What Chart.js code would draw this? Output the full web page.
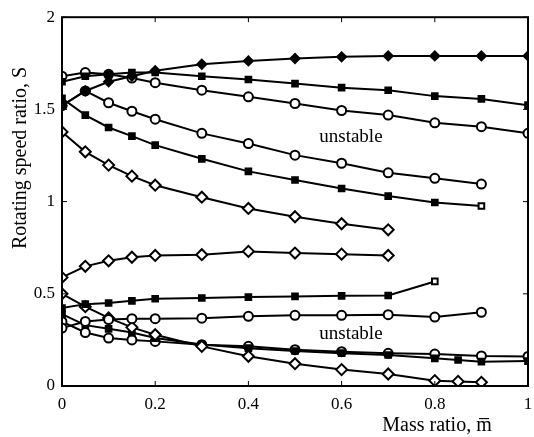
<!DOCTYPE html>
<html>
<head>
<meta charset="utf-8">
<script src="https://cdn.jsdelivr.net/npm/chart.js@4.4.1/dist/chart.umd.min.js"></script>
<style>
  body { margin: 0; background: #fff; }
  #wrap { width: 534px; height: 437px; }
</style>
</head>
<body>
<div id="wrap"><canvas id="chart_speed"></canvas></div>
<script>
// mass ratio positions
const m_full = [0, 0.05, 0.1, 0.15, 0.2, 0.3, 0.4, 0.5, 0.6, 0.7, 0.8, 0.9, 1.0];
const m_to09 = [0, 0.05, 0.1, 0.15, 0.2, 0.3, 0.4, 0.5, 0.6, 0.7, 0.8, 0.9];
const m_to08 = [0, 0.05, 0.1, 0.15, 0.2, 0.3, 0.4, 0.5, 0.6, 0.7, 0.8];
const m_to07 = [0, 0.05, 0.1, 0.15, 0.2, 0.3, 0.4, 0.5, 0.6, 0.7];
const m_fall = [0, 0.05, 0.1, 0.15, 0.2, 0.3, 0.4, 0.5, 0.6, 0.7, 0.8, 0.85, 0.9];
const m_fall1 = [0, 0.05, 0.1, 0.15, 0.2, 0.3, 0.4, 0.5, 0.6, 0.7, 0.8, 0.85, 0.9, 1.0];

// upper branches
const top_diamond = [1.52, 1.60, 1.65, 1.68, 1.71, 1.745, 1.763, 1.776, 1.785, 1.79, 1.79, 1.79, 1.79];
const top_square  = [1.65, 1.68, 1.69, 1.70, 1.70, 1.68, 1.662, 1.64, 1.618, 1.604, 1.572, 1.557, 1.523];
const top_circle  = [1.68, 1.70, 1.69, 1.67, 1.645, 1.604, 1.568, 1.532, 1.494, 1.469, 1.427, 1.406, 1.37];
const mid_circle  = [1.52, 1.60, 1.536, 1.49, 1.447, 1.37, 1.315, 1.252, 1.208, 1.156, 1.126, 1.095];
const mid_square  = [1.56, 1.469, 1.402, 1.355, 1.306, 1.232, 1.164, 1.117, 1.071, 1.03, 0.995, 0.976];
const mid_diamond = [1.378, 1.27, 1.198, 1.138, 1.089, 1.024, 0.963, 0.918, 0.88, 0.847];

// lower branches
const low_diamond = [0.589, 0.649, 0.679, 0.698, 0.708, 0.712, 0.73, 0.721, 0.715, 0.708];
const low_square  = [0.423, 0.444, 0.45, 0.462, 0.473, 0.477, 0.482, 0.486, 0.489, 0.491, 0.567];
const low_circle  = [0.314, 0.35, 0.36, 0.365, 0.365, 0.368, 0.378, 0.383, 0.383, 0.387, 0.374, 0.40];
const fall_diamond = [0.5, 0.43, 0.369, 0.318, 0.278, 0.215, 0.161, 0.121, 0.089, 0.065, 0.029, 0.025, 0.02];
const fall_square  = [0.39, 0.33, 0.31, 0.29, 0.26, 0.225, 0.205, 0.19, 0.178, 0.168, 0.15, 0.141, 0.132, 0.135];
const fall_circle  = [0.349, 0.29, 0.26, 0.25, 0.242, 0.224, 0.215, 0.197, 0.186, 0.177, 0.173, 0.163, 0.16];

const y_ticks = [0, 0.5, 1, 1.5, 2];
const x_ticks = [0, 0.2, 0.4, 0.6, 0.8, 1];

const FONT = "'Liberation Serif', 'Times New Roman', serif";

function pts(ms, ss) {
    return ss.map((s, i) => ({x: ms[i], y: s}));
}

function series(ms, ss, kind, hollowLast) {
    let style = {circle: "circle", square: "rect", diamond: "rectRot", smalldiamond: "rectRot"}[kind];
    let radius = {circle: 4.5, square: 4, diamond: 5.5, smalldiamond: 4.5}[kind];
    let fill = (kind == "square" || kind == "smalldiamond") ? "#000" : "#fff";
    let bg = ss.map((s, i) => (hollowLast && i == ss.length - 1) ? "#fff" : fill);
    return {
        data: pts(ms, ss),
        showLine: true,
        borderColor: "#000",
        borderWidth: 2,
        pointStyle: style,
        pointRadius: radius,
        pointBorderWidth: 2,
        pointBorderColor: "#000",
        pointBackgroundColor: bg
    };
}

const framePlugin = {
    id: "frame",
    afterDraw(chart) {
        const ctx = chart.ctx;
        const a = chart.chartArea;
        const xs = chart.scales.x, ys = chart.scales.y;
        ctx.save();
        ctx.strokeStyle = "#000";
        ctx.lineWidth = 2;
        ctx.strokeRect(a.left, a.top, a.right - a.left, a.bottom - a.top);
        // small inward ticks
        ctx.lineWidth = 1;
        x_ticks.forEach(v => {
            let px = xs.getPixelForValue(v);
            ctx.beginPath();
            ctx.moveTo(px, a.bottom); ctx.lineTo(px, a.bottom - 5);
            ctx.moveTo(px, a.top); ctx.lineTo(px, a.top + 5);
            ctx.stroke();
        });
        y_ticks.forEach(v => {
            let py = ys.getPixelForValue(v);
            ctx.beginPath();
            ctx.moveTo(a.left, py); ctx.lineTo(a.left + 5, py);
            ctx.moveTo(a.right, py); ctx.lineTo(a.right - 5, py);
            ctx.stroke();
        });
        ctx.fillStyle = "#000";
        // region labels
        ctx.font = "19px " + FONT;
        ctx.textAlign = "center";
        ctx.textBaseline = "middle";
        ctx.fillText("unstable", xs.getPixelForValue(0.62), ys.getPixelForValue(1.35));
        ctx.fillText("unstable", xs.getPixelForValue(0.62), ys.getPixelForValue(0.28));
        // axis titles
        ctx.font = "20px " + FONT;
        ctx.fillText("Mass ratio, m\u0305", 437, 426);
        ctx.translate(21, 158);
        ctx.rotate(-Math.PI / 2);
        ctx.fillText("Rotating speed ratio, S", 0, 0);
        ctx.restore();
    }
};

const chart_speed = new Chart("chart_speed", {
    type: "scatter",
    data: {
        datasets: [
            series(m_full, top_diamond, "smalldiamond"),
            series(m_full, top_square, "square"),
            series(m_full, top_circle, "circle"),
            series(m_to09, mid_circle, "circle"),
            series(m_to09, mid_square, "square", true),
            series(m_to07, mid_diamond, "diamond"),
            series(m_to07, low_diamond, "diamond"),
            series(m_to08, low_square, "square", true),
            series(m_to09, low_circle, "circle"),
            series(m_fall, fall_diamond, "diamond"),
            series(m_fall1, fall_square, "square"),
            series(m_full, fall_circle, "circle")
        ]
    },
    options: {
        responsive: true,
        maintainAspectRatio: false,
        animation: false,
        layout: {autoPadding: false, padding: {left: 0, top: 17, right: 6, bottom: 0}},
        plugins: {
            legend: {display: false},
            tooltip: {enabled: false}
        },
        scales: {
            x: {
                type: "linear",
                min: 0, max: 1,
                afterBuildTicks: s => { s.ticks = x_ticks.map(v => ({value: v})); },
                afterFit: s => { s.height = 51; s.paddingRight = 0; },
                grid: {display: false, drawTicks: false},
                border: {display: false},
                ticks: {
                    color: "#000",
                    padding: 8,
                    font: {family: FONT, size: 17},
                    maxRotation: 0,
                    callback: v => String(v)
                }
            },
            y: {
                type: "linear",
                min: 0, max: 2,
                afterBuildTicks: s => { s.ticks = y_ticks.map(v => ({value: v})); },
                afterFit: s => { s.width = 62; },
                grid: {display: false, drawTicks: false},
                border: {display: false},
                ticks: {
                    color: "#000",
                    padding: 7,
                    font: {family: FONT, size: 17},
                    callback: v => String(v)
                }
            }
        }
    },
    plugins: [framePlugin]
});
</script>
</body>
</html>
